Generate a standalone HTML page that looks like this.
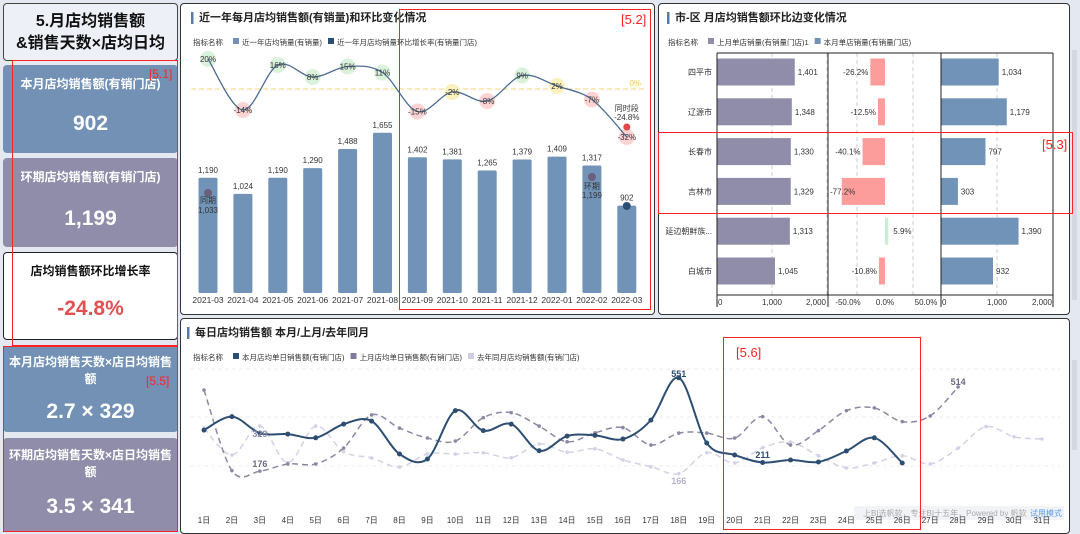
<!DOCTYPE html>
<html><head><meta charset="utf-8">
<style>
*{box-sizing:border-box;margin:0;padding:0}
body{width:1080px;height:532px;overflow:hidden;background:#e4e8f0;font-family:"Liberation Sans","Noto Sans CJK SC",sans-serif;position:relative}
.abs{position:absolute}
.card{position:absolute;left:3px;width:175px;border-radius:4px;color:#fff;text-align:center;font-weight:bold;white-space:nowrap}
.panel{position:absolute;background:#fff;border:1.5px solid #333;border-radius:4px}
.red{position:absolute;border:1.5px solid #f22;}
.redl{position:absolute;color:#f22;font-size:12px}
svg text{font-family:"Liberation Sans","Noto Sans CJK SC",sans-serif}
</style></head><body>
<div class="card" style="top:3px;height:58px;background:#eef0f7;border:1px solid #444;color:#111;font-size:16px;line-height:22px;padding-top:7px">5.月店均销售额<br>&amp;销售天数×店均日均</div>
<div class="card" style="top:65px;height:88px;background:#7291b4"><div style="font-size:12px;margin-top:10px">本月店均销售额(有销门店)</div><div style="font-size:21px;margin-top:20px">902</div></div>
<div class="card" style="top:158px;height:89px;background:#8f8da9"><div style="font-size:12px;margin-top:10px">环期店均销售额(有销门店)</div><div style="font-size:21px;margin-top:22px">1,199</div></div>
<div class="card" style="top:252px;height:88px;background:#fff;border:1.5px solid #222;color:#111"><div style="font-size:12px;margin-top:9px">店均销售额环比增长率</div><div style="font-size:21px;margin-top:18px;color:#e25052">-24.8%</div></div>
<div class="card" style="top:346px;height:86px;background:#7291b4"><div style="font-size:12px;margin-top:8px;line-height:17px">本月店均销售天数×店日均销售<br>额</div><div style="font-size:21px;margin-top:12px">2.7 × 329</div></div>
<div class="card" style="top:438px;height:94px;background:#8f8da9"><div style="font-size:12px;margin-top:9px;line-height:17px">环期店均销售天数×店日均销售<br>额</div><div style="font-size:21px;margin-top:14px">3.5 × 341</div></div>
<div class="red" style="left:12px;top:60px;width:166px;height:286px"></div><div class="redl" style="left:149px;top:67px">[5.1]</div>
<div class="red" style="left:3px;top:346px;width:175px;height:186px"></div><div class="redl" style="left:146px;top:374px">[5.5]</div>

<div class="panel" style="left:180px;top:3px;width:475px;height:312px"></div>
<div class="panel" style="left:658px;top:3px;width:412px;height:312px"></div>
<div class="panel" style="left:180px;top:318px;width:890px;height:216px"></div>
<div class="abs" style="left:1072px;top:50px;width:5px;height:250px;background:#d4d8e0"></div>
<div class="abs" style="left:1072px;top:360px;width:5px;height:90px;background:#d4d8e0"></div>

<svg id="s" class="abs" style="left:0;top:0" width="1080" height="532"></svg>

<div class="red" style="left:399px;top:9px;width:252px;height:301px"></div><div class="redl" style="left:621px;top:12px;font-size:13px">[5.2]</div>
<div class="red" style="left:658px;top:132px;width:415px;height:82px"></div><div class="redl" style="left:1042px;top:137px;font-size:13px">[5.3]</div>
<div class="red" style="left:723px;top:337px;width:198px;height:193px"></div><div class="redl" style="left:736px;top:345px;font-size:13px">[5.6]</div>

<script>
const months=['2021-03','2021-04','2021-05','2021-06','2021-07','2021-08','2021-09','2021-10','2021-11','2021-12','2022-01','2022-02','2022-03'];
const monthSales=[1190,1024,1190,1290,1488,1655,1402,1381,1265,1379,1409,1317,902];
const monthPct=[20,-14,16,8,15,11,-15,-2,-8,9,2,-7,-32];
const cities=['四平市','辽源市','长春市','吉林市','延边朝鲜族...','白城市'];
const prevCity=[1401,1348,1330,1329,1313,1045];
const pctCity=[-26.2,-12.5,-40.1,-77.2,5.9,-10.8];
const curCity=[1034,1179,797,303,1390,932];
const days=['1日','2日','3日','4日','5日','6日','7日','8日','9日','10日','11日','12日','13日','14日','15日','16日','17日','18日','19日','20日','21日','22日','23日','24日','25日','26日','27日','28日','29日','30日','31日'];
const curDaily=[341,395,329,325,310,365,377,245,225,419,339,365,258,317,320,305,381,551,289,241,211,221,213,257,310,209];
const prevDaily=[502,178,176,205,205,269,402,349,309,297,391,411,357,294,330,351,281,329,329,309,395,281,339,419,430,375,398,514];
const lyDaily=[349,241,357,210,357,254,229,193,245,245,250,230,285,252,266,221,194,166,250,209,270,293,238,189,209,238,205,269,355,314,305];

const S=document.getElementById('s');const NS='http://www.w3.org/2000/svg';
function el(t,a,txt){const e=document.createElementNS(NS,t);for(const k in a)e.setAttribute(k,a[k]);if(txt!==undefined)e.textContent=txt;S.appendChild(e);return e;}
function tx(x,y,s,o){return el('text',Object.assign({x:x,y:y,'font-size':9,fill:'#333','text-anchor':'middle'},o||{}),s);}
function smooth(p){let d='M'+p[0][0]+','+p[0][1];for(let i=0;i<p.length-1;i++){const a=p[i-1]||p[i],b=p[i],c=p[i+1],e=p[i+2]||c;d+=' C'+(b[0]+(c[0]-a[0])/6)+','+(b[1]+(c[1]-a[1])/6)+' '+(c[0]-(e[0]-b[0])/6)+','+(c[1]-(e[1]-b[1])/6)+' '+c[0]+','+c[1];}return d;}
function fmt(v){return v.toLocaleString('en-US');}

function title(x,y,s){let b=el('rect',{x:x,y:y-9,width:2.5,height:12,fill:'#5b7aa6'});let t=tx(x+8,y,s,{'font-size':11,'text-anchor':'start',fill:'#222','font-weight':'bold'});}
title(191,21,'近一年每月店均销售额(有销量)和环比变化情况');
title(667,21,'市-区 月店均销售额环比边变化情况');
title(187,336,'每日店均销售额 本月/上月/去年同月');
function leg(x,y,items){let t0=tx(x,y,'指标名称',{'font-size':7.5,'text-anchor':'start'});let cx=x+t0.getComputedTextLength()+10;items.forEach(it=>{let r=el('rect',{x:cx,y:y-7,width:6,height:6,fill:it[1]});let t=tx(cx+9,y,it[0],{'font-size':7.5,'text-anchor':'start'});cx+=9+t.getComputedTextLength()+6;});}
leg(193,45,[['近一年店均销量(有销量)','#7291b4'],['近一年月店均销量环比增长率(有销量门店)','#2d4e72']]);
leg(668,45,[['上月单店销量(有销量门店)1','#8f8da9'],['本月单店销量(有销量门店)','#7291b4']]);
leg(193,360,[['本月店均单日销售额(有销门店)','#2d4e72'],['上月店均单日销售额(有销门店)','#7f7d99'],['去年同月店均销售额(有销门店)','#cfcde3']]);

const mx=i=>208+i*34.9, my=v=>293-v*0.0968, py=p=>89-p*1.5;
el('line',{x1:191,x2:645,y1:89,y2:89,stroke:'#f5d47a','stroke-dasharray':'5,3','stroke-width':1});
tx(641,86,'0%',{'font-size':8,fill:'#f3c85a','text-anchor':'end'});
months.forEach((m,i)=>{let b=el('rect',{x:mx(i)-9.5,y:my(monthSales[i]),width:19,height:293-my(monthSales[i]),fill:'#7293b8',rx:1.5});

tx(mx(i),my(monthSales[i])-5,fmt(monthSales[i]),{'font-size':8});
tx(mx(i),303,m,{'font-size':8.5});});
const pp=monthPct.map((p,i)=>[mx(i),py(p)]);
monthPct.forEach((p,i)=>{let c=p>5?'#daf2dc':(p>-5?'#fbf1bc':'#fdd3d3');let ci=el('circle',{cx:mx(i),cy:py(p),r:8,fill:c});});
let pl=el('path',{d:smooth(pp),fill:'none',stroke:'#4c6c90','stroke-width':1.3});
monthPct.forEach((p,i)=>tx(mx(i),py(p)+3,p+'%',{'font-size':8}));
el('circle',{cx:mx(0),cy:193,r:4,fill:'#6b5f7e'});tx(mx(0),203,'同期',{'font-size':8});tx(mx(0),213,'1,033',{'font-size':8});
el('circle',{cx:mx(11),cy:177,r:4,fill:'#6b5f7e'});tx(mx(11),189,'环期',{'font-size':8});tx(mx(11),198,'1,199',{'font-size':8});
el('circle',{cx:mx(12),cy:206,r:4,fill:'#2d4e72'});
tx(mx(12),111,'同时段',{'font-size':8});tx(mx(12),120,'-24.8%',{'font-size':8});
el('circle',{cx:mx(12),cy:127,r:3.5,fill:'#e04848'});

const rowY=i=>72+i*39.8;
const ax1=v=>717+v*0.0555, ax2=p=>885+p*0.56, ax3=v=>941+v*0.0558;
[772,827,857,913,997,1053].forEach(x=>el('line',{x1:x,x2:x,y1:53,y2:295,stroke:'#ccc','stroke-dasharray':'4,3'}));
cities.forEach((c,i)=>{const y=rowY(i);
tx(712,y+3,c,{'font-size':8,'text-anchor':'end'});
let b=el('rect',{x:717,y:y-13.5,width:ax1(prevCity[i])-717,height:27,fill:'#8f8da9'});
tx(ax1(prevCity[i])+3,y+3,fmt(prevCity[i]),{'font-size':8,'text-anchor':'start'});
const p=pctCity[i];const x0=Math.min(ax2(p),885),w=Math.abs(ax2(p)-885);
let b2=el('rect',{x:Math.max(x0,829),y:y-13.5,width:Math.min(w,885-829),height:27,fill:p<0?'#fd9d9b':'#c9efd3'});
if(p<0){if(ax2(p)<845)tx(830,y+3,p.toFixed(1)+'%',{'font-size':8,'text-anchor':'start'});else tx(ax2(p)-2,y+3,p.toFixed(1)+'%',{'font-size':8,'text-anchor':'end'});}else tx(ax2(p)+5,y+3,p.toFixed(1)+'%',{'font-size':8,'text-anchor':'start'});
let b3=el('rect',{x:941,y:y-13.5,width:ax3(curCity[i])-941,height:27,fill:'#7293b8'});
tx(ax3(curCity[i])+3,y+3,fmt(curCity[i]),{'font-size':8,'text-anchor':'start'});});
[717,828,941,1053].forEach(x=>el('line',{x1:x,x2:x,y1:53,y2:307,stroke:'#222','stroke-width':1}));
el('line',{x1:717,x2:1053,y1:53,y2:53,stroke:'#222'});el('line',{x1:717,x2:1053,y1:295,y2:295,stroke:'#222'});
[['0',718,'start'],['1,000',772],['2,000',826,'end'],['-50.0%',848],['0.0%',885],['50.0%',926],['0',942,'start'],['1,000',997],['2,000',1052,'end']].forEach(t=>tx(t[1],305,t[0],{'font-size':8,'text-anchor':t[2]||'middle'}));

const dx=i=>204+i*27.93, dy=v=>515-v*0.249;
[369,417,466].forEach(y=>el('line',{x1:190,x2:1060,y1:y,y2:y,stroke:'#eee','stroke-dasharray':'4,3'}));
el('rect',{x:854,y:506,width:210,height:14,fill:'#f1f3f7'});
tx(863,516,'上BI选帆软，专注BI十五年，Powered by 帆软',{'font-size':8,fill:'#aaa','text-anchor':'start'});
tx(1062,516,'试用模式',{'font-size':8,fill:'#5b9bf0','text-anchor':'end'});
function series(arr,col,dash,w,name,r){const pts=arr.map((v,i)=>[dx(i),dy(v)]);let p=el('path',{d:smooth(pts),fill:'none',stroke:col,'stroke-width':w,'stroke-dasharray':dash});pts.forEach(q=>el('circle',{cx:q[0],cy:q[1],r:r,fill:col}));}
series(lyDaily,'#d3d1e6','6,4',1.5,'line-last-year',1.8);
series(prevDaily,'#8a88a4','6,4',1.5,'line-last-month',1.8);
series(curDaily,'#2d4e72','',2,'line-current-month',2.5);
tx(dx(17),377,'551',{'font-size':9,fill:'#2d4e72','font-weight':'bold'});
tx(dx(20),458,'211',{'font-size':9,fill:'#2d4e72','font-weight':'bold'});
tx(dx(2),437,'329',{'font-size':9,fill:'#8a88a4','font-weight':'bold'});
tx(dx(2),467,'176',{'font-size':9,fill:'#6b6985','font-weight':'bold'});
tx(dx(27),385,'514',{'font-size':9,fill:'#6b6985','font-weight':'bold'});
tx(dx(17),484,'166',{'font-size':9,fill:'#b5b3cc','font-weight':'bold'});
days.forEach((d,i)=>tx(dx(i),523,d,{'font-size':8}));
</script>
</body></html>
